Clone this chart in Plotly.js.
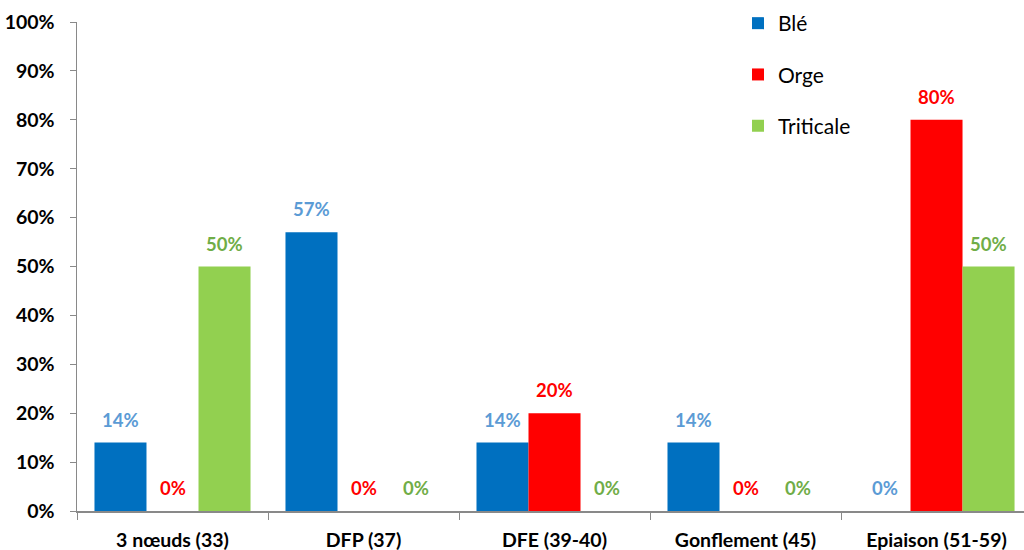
<!DOCTYPE html>
<html>
<head>
<meta charset="utf-8">
<script src="https://cdn.plot.ly/plotly-3.0.1.min.js"></script>
<style>html,body{margin:0;padding:0;background:#fff;}#chart{width:1024px;height:550px;}</style>
</head>
<body>
<div id="chart"></div>
<script>
const categories = ["3 nœuds (33)", "DFP (37)", "DFE (39-40)", "Gonflement (45)", "Epiaison (51-59)"];
const ble = [14, 57, 14, 14, 0];
const orge = [0, 0, 20, 0, 80];
const triticale = [50, 0, 0, 0, 50];
const seriesNames = ["Blé", "Orge", "Triticale"];
const yTicks = [0, 10, 20, 30, 40, 50, 60, 70, 80, 90, 100];

const barColors = ["#0070C0", "#FF0000", "#92D050"];
const labelColors = ["#5B9BD5", "#FF0000", "#70AD47"];
const seriesData = [ble, orge, triticale];
const FONT = "Lato, 'Open Sans', sans-serif";

const traces = seriesData.map((vals, i) => ({
  type: "bar",
  name: seriesNames[i],
  legendgroup: "g" + i,
  x: categories,
  y: vals,
  marker: {color: barColors[i]},
  hoverinfo: "none"
}));

// value labels placed above each bar, offset to its slot in the group
const barPx = 947 / 4.958 * (1 - 0.183) / 3;
const annotations = [];
seriesData.forEach((vals, i) => {
  vals.forEach((v, j) => {
    annotations.push({
      x: categories[j], y: v, xref: "x", yref: "y",
      text: v + "%", showarrow: false,
      xshift: (i - 1) * barPx, yanchor: "bottom", yshift: 10,
      font: {family: FONT, size: 18.5, color: labelColors[i], weight: "bold"}
    });
  });
});

const layout = {
  width: 1024, height: 550,
  margin: {l: 77, r: 0, t: 22, b: 39, autoexpand: false},
  paper_bgcolor: "#fff", plot_bgcolor: "#fff",
  barmode: "group",
  bargap: 0.183,
  bargroupgap: 0,
  font: {family: FONT, color: "#000"},
  showlegend: true,
  annotations: annotations,
  legend: {
    x: (738 - 77) / 947, xref: "paper", xanchor: "left",
    y: 1 + 19 / 489, yref: "paper", yanchor: "top",
    font: {size: 21, color: "#000", family: FONT},
    tracegroupgap: 21,
    bgcolor: "rgba(0,0,0,0)"
  },
  xaxis: {
    type: "category",
    range: [-0.5, 4.458],
    showline: true, linecolor: "#898989", linewidth: 1.5,
    ticks: "outside", tickson: "boundaries", ticklen: 7, tickcolor: "#898989",
    tickfont: {size: 19.5, color: "#000", weight: "bold"},
    ticklabelstandoff: 11,
    tickangle: 0, automargin: false,
    showgrid: false, zeroline: false, fixedrange: true
  },
  yaxis: {
    range: [0, 100],
    tickvals: yTicks,
    ticktext: yTicks.map(v => v + "%"),
    showline: true, linecolor: "#898989", linewidth: 1.5,
    ticks: "outside", ticklen: 6, tickcolor: "#898989",
    tickfont: {size: 19.5, color: "#000", weight: "bold"},
    ticklabelstandoff: 11,
    automargin: false,
    showgrid: false, zeroline: false, fixedrange: true
  }
};

Plotly.newPlot("chart", traces, layout, {displayModeBar: false, staticPlot: true});
</script>
</body>
</html>
